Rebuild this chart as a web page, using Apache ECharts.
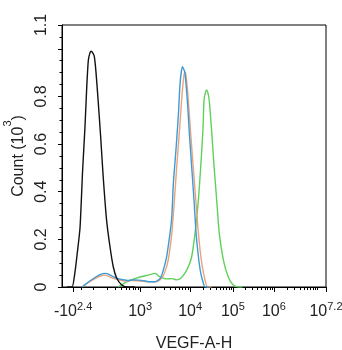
<!DOCTYPE html>
<html>
<head>
<meta charset="utf-8">
<script src="https://cdn.jsdelivr.net/npm/echarts@6/dist/echarts.min.js"></script>
<style>
html,body{margin:0;padding:0;background:#fff;}
#c{width:342px;height:350px;}
</style>
</head>
<body>
<div id="c"></div>
<script>
// Axis: logicle-like display, data in display channels (0..1024)
const labelBases = ['-10', '10', '10', '10', '10', '10'];
const labelExps = ['2.4', '3', '4', '5', '6', '7.2'];
const labelChannels = [43, 303, 497, 663, 822, 1024];
// decade anchors (log10 value -> channel) used for minor ticks
const decadeExps = [2, 3, 4, 5, 6, 7.2];
const decadeChannels = [120, 303, 497, 663, 822, 1024];
const extraMinorChannels = [74];

const yLabelValues = [0, 0.2, 0.4, 0.6, 0.8, 1.1];

// Histogram series: channel and count (x10^3)
const blackCh = [20, 39, 50, 59, 70, 80, 89, 96, 102, 109, 114, 118, 125, 132, 141, 150, 160, 173, 186, 199, 212, 232, 251, 283];
const blackCount = [0, 0.0, 0.06, 0.14, 0.25, 0.49, 0.67, 0.84, 0.95, 0.985, 0.99, 0.985, 0.97, 0.90, 0.77, 0.63, 0.46, 0.28, 0.17, 0.084, 0.038, 0.008, 0.0, 0.0];

const blueCh = [78, 101, 128, 147, 168, 178, 194, 220, 241, 259, 275, 298, 314, 336, 362, 381, 393, 406, 419, 426, 432, 442, 451, 458, 467, 472, 477, 486, 494, 503, 512, 520, 529, 538, 548, 555, 570];
const blueCount = [0, 0.02, 0.04, 0.052, 0.057, 0.055, 0.046, 0.034, 0.03, 0.027, 0.03, 0.029, 0.027, 0.022, 0.022, 0.036, 0.071, 0.128, 0.226, 0.296, 0.436, 0.575, 0.715, 0.855, 0.925, 0.915, 0.898, 0.785, 0.646, 0.505, 0.365, 0.226, 0.128, 0.059, 0.017, 0, 0];

const orangeCh = [78, 101, 128, 147, 167, 194, 220, 244, 272, 303, 334, 361, 380, 396, 412, 426, 436, 445, 455, 464, 472, 477, 482, 490, 499, 509, 519, 529, 542, 555, 564, 580];
const orangeCount = [0, 0.018, 0.035, 0.045, 0.05, 0.038, 0.03, 0.025, 0.027, 0.025, 0.022, 0.022, 0.03, 0.055, 0.113, 0.226, 0.365, 0.504, 0.646, 0.785, 0.88, 0.904, 0.88, 0.785, 0.646, 0.504, 0.365, 0.226, 0.1, 0.029, 0, 0];

const greenCh = [217, 233, 256, 283, 310, 334, 361, 380, 403, 427, 445, 464, 478, 490, 503, 516, 529, 538, 546, 551, 556, 561, 566, 571, 581, 590, 600, 610, 626, 645, 664, 684, 700];
const greenCount = [0, 0.01, 0.025, 0.035, 0.044, 0.05, 0.057, 0.042, 0.034, 0.035, 0.03, 0.04, 0.06, 0.085, 0.127, 0.226, 0.365, 0.504, 0.646, 0.785, 0.815, 0.827, 0.815, 0.785, 0.646, 0.504, 0.365, 0.226, 0.113, 0.042, 0.008, 0, 0];

function zip(a, b) { return a.map((v, i) => [v, b[i]]); }

// minor ticks from decade anchors
const minorX = extraMinorChannels.slice();
for (let i = 0; i < decadeExps.length - 1; i++) {
  const e0 = decadeExps[i], e1 = decadeExps[i + 1];
  const c0 = decadeChannels[i], c1 = decadeChannels[i + 1];
  const per = (c1 - c0) / (e1 - e0);
  const base = Math.floor(e0);
  for (let e = base; e < e1; e++) {
    for (let k = 1; k <= 9; k++) {
      const lv = e + Math.log10(k);
      if (lv > e0 && lv < e1) minorX.push(c0 + (lv - e0) * per);
    }
  }
}
minorX.push(decadeChannels[0]);

const yMajor = [];
for (let v = 0; v <= 1.0001; v += 0.2) yMajor.push(+v.toFixed(2));
yMajor.push(1.1);
const yMinor = [];
for (let v = 0; v <= 1.1001; v += 0.05) yMinor.push(+v.toFixed(2));

const FONT = 'Liberation Sans';
const TXT = '#222';

const chart = echarts.init(document.getElementById('c'), null, { renderer: 'canvas' });
chart.setOption({
  animation: false,
  backgroundColor: '#fff',
  grid: { left: 62, right: 16, top: 25, bottom: 63, outerBoundsMode: 'none', containLabel: false, show: true, borderColor: '#000', borderWidth: 1, backgroundColor: 'transparent' },
  xAxis: [{
    type: 'value', min: 0, max: 1024, position: 'bottom',
    name: 'VEGF-A-H', nameLocation: 'middle', nameGap: 49,
    nameTextStyle: { fontFamily: FONT, fontSize: 16, color: TXT },
    axisLine: { show: true, lineStyle: { color: '#000', width: 1 } },
    axisTick: { show: true, inside: false, length: 5, customValues: labelChannels, lineStyle: { color: '#000' } },
    axisLabel: {
      show: true, margin: 16, customValues: labelChannels, hideOverlap: false,
      formatter: function (v) {
        const i = labelChannels.indexOf(v);
        if (i < 0) return '';
        return '{b|' + labelBases[i] + '}{s|' + labelExps[i] + '}';
      },
      rich: {
        b: { fontFamily: FONT, fontSize: 16, color: TXT, lineHeight: 18 },
        s: { fontFamily: FONT, fontSize: 11, color: TXT, lineHeight: 13, padding: [0, 0, 11, 0] }
      }
    },
    splitLine: { show: false }
  }, {
    type: 'value', min: 0, max: 1024, position: 'bottom', gridIndex: 0,
    axisLine: { show: false },
    axisTick: { show: true, inside: false, length: 3, customValues: minorX, lineStyle: { color: '#000' } },
    axisLabel: { show: false },
    splitLine: { show: false }
  }],
  yAxis: [{
    type: 'value', min: 0, max: 1.1, position: 'left',
    name: '{b|Count (10}{s|3}{b|)}', nameLocation: 'middle', nameGap: 33, nameRotate: 90,
    nameTextStyle: {
      rich: {
        b: { fontFamily: FONT, fontSize: 16, color: TXT, lineHeight: 24, verticalAlign: 'bottom' },
        s: { fontFamily: FONT, fontSize: 11, color: TXT, lineHeight: 12, verticalAlign: 'top' }
      }
    },
    axisLine: { show: true, lineStyle: { color: '#000', width: 1 } },
    axisTick: { show: true, inside: false, length: 4, customValues: yMajor, lineStyle: { color: '#000' } },
    axisLabel: {
      show: true, rotate: 90, margin: 12, customValues: yLabelValues,
      fontFamily: FONT, fontSize: 16, color: TXT,
      formatter: function (v) { return String(v); }
    },
    splitLine: { show: false }
  }, {
    type: 'value', min: 0, max: 1.1, position: 'left', gridIndex: 0,
    axisLine: { show: false },
    axisTick: { show: true, inside: false, length: 2.5, customValues: yMinor, lineStyle: { color: '#000' } },
    axisLabel: { show: false },
    splitLine: { show: false }
  }],
  series: [
    { type: 'line', name: 'black', data: zip(blackCh, blackCount), showSymbol: false, smooth: 0.2, lineStyle: { color: '#111', width: 1.4 }, z: 5 },
    { type: 'line', name: 'green', data: zip(greenCh, greenCount), showSymbol: false, smooth: 0.2, lineStyle: { color: '#5ed15a', width: 1.4 }, z: 2 },
    { type: 'line', name: 'orange', data: zip(orangeCh, orangeCount), showSymbol: false, smooth: 0.2, lineStyle: { color: '#eba37c', width: 1.4 }, z: 3 },
    { type: 'line', name: 'blue', data: zip(blueCh, blueCount), showSymbol: false, smooth: 0.2, lineStyle: { color: '#3d9ad6', width: 1.4 }, z: 4 }
  ]
});
</script>
</body>
</html>
